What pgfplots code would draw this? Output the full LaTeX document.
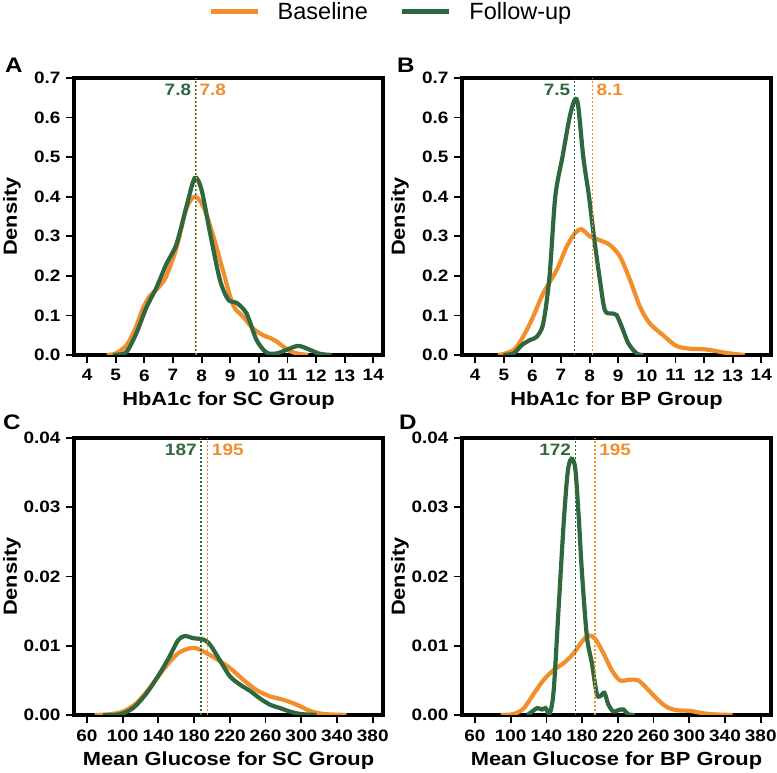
\documentclass[border=0pt]{standalone}
\usepackage{fontspec}
\setmainfont{Liberation Sans}[FakeStretch=1.15]
\newfontfamily\legendfont{Liberation Sans}
\usepackage{pgfplots}
\pgfplotsset{compat=1.18}
\definecolor{cOr}{RGB}{242,142,43}
\definecolor{cGr}{RGB}{47,104,62}
\tikzset{mlab/.style={font=\bfseries\fontsize{16.5bp}{17bp}\selectfont, inner sep=0pt}}
\pgfplotsset{
 dens/.style={
  scale only axis, width=309bp, height=277bp,
  axis line style={line width=3.5bp, black},
  tick align=outside, major tick length=8bp,
  tick style={black, line width=1.8bp},
  xtick pos=left, ytick pos=left,
  ticklabel style={font=\bfseries\fontsize{16.5bp}{17bp}\selectfont},
  xticklabel style={yshift=-3bp},
  yticklabel style={xshift=-2bp},
  /pgf/number format/assume math mode=true,
  label style={font=\bfseries\fontsize{19bp}{20bp}\selectfont},
  xlabel style={at={(rel axis cs:0.5,0)}, anchor=north, yshift=-37bp, inner sep=0pt},
  ylabel style={at={(rel axis cs:0,0.5)}, anchor=north, yshift=71bp, inner sep=0pt},
  ylabel=Density,
  scaled y ticks=false,
  ymin=0,
 },
 hba/.style={dens, xmin=3.54, xmax=14.34, xtick={4,5,...,14}, ymax=0.7, ytick={0,0.1,...,0.7},
  yticklabel style={/pgf/number format/.cd, fixed, fixed zerofill, precision=1}},
 glu/.style={dens, xmin=45.5, xmax=391.5, xtick={60,100,...,380}, ymax=0.04, ytick={0,0.01,...,0.04},
  yticklabel style={/pgf/number format/.cd, fixed, fixed zerofill, precision=2}},
 orc/.style={cOr, line width=4.2bp, smooth, tension=0.5, no markers},
 grc/.style={cGr, line width=4.2bp, smooth, tension=0.5, no markers},
 orm/.style={cOr, line width=1.4bp, dash pattern=on 2bp off 2bp, forget plot},
 grm/.style={cGr, line width=1.4bp, dash pattern=on 2bp off 2bp, forget plot},
}
\begin{document}
\begin{tikzpicture}
\path[use as bounding box] (0bp,0bp) rectangle (777bp,773bp);
% Panel A
\begin{axis}[hba, at={(74bp,418bp)}, anchor=south west, xlabel={HbA1c for SC Group},
  legend style={at={(rel axis cs:1.025,1.24)}, anchor=center, draw=none, fill=none,
   legend columns=2, font=\legendfont\fontsize{23.5bp}{25bp}\selectfont,
   /tikz/every even column/.append style={column sep=30bp}},
  legend image code/.code={\draw[#1,line width=5bp] (0bp,0bp) -- (47bp,0bp); \path (63bp,0bp);}]
\addplot[orc] coordinates {(4.68,0)(5.0,0.004)(5.38,0.025)(5.7,0.07)(5.96,0.12)(6.2,0.15)(6.42,0.165)(6.6,0.18)(6.77,0.2)(7.12,0.27)(7.47,0.37)(7.76,0.40)(8.06,0.375)(8.41,0.30)(8.76,0.21)(9.1,0.126)(9.45,0.097)(9.8,0.067)(10.15,0.05)(10.4,0.043)(10.62,0.034)(11.08,0.01)(11.4,0.003)(11.73,0)};
\addlegendentry{Baseline}
\addplot[grc] coordinates {(4.91,0)(5.1,0.001)(5.38,0.008)(5.72,0.055)(6.07,0.12)(6.42,0.17)(6.77,0.23)(7.12,0.28)(7.47,0.375)(7.76,0.447)(8.0,0.417)(8.29,0.31)(8.64,0.19)(8.93,0.14)(9.22,0.132)(9.57,0.105)(9.92,0.038)(10.27,0.006)(10.62,0.004)(10.97,0.013)(11.38,0.023)(11.79,0.013)(12.13,0.003)(12.54,0)};
\addlegendentry{Follow-up}
\addplot[orm] coordinates {(7.82,0)(7.82,0.7)};
\addplot[grm] coordinates {(7.78,0)(7.78,0.7)};
\node[mlab, anchor=base east, text=cGr, xshift=-4bp] at (axis cs:7.78,0.657) {7.8};
\node[mlab, anchor=base west, text=cOr, xshift=3bp] at (axis cs:7.82,0.657) {7.8};
\end{axis}
% Panel B
\begin{axis}[hba, at={(462bp,418bp)}, anchor=south west, xlabel={HbA1c for BP Group}]
\addplot[orc] coordinates {(4.81,0)(5.1,0.005)(5.45,0.02)(5.92,0.08)(6.38,0.156)(6.85,0.215)(7.2,0.274)(7.49,0.308)(7.72,0.318)(8.01,0.30)(8.36,0.29)(8.71,0.278)(9.06,0.249)(9.41,0.19)(9.76,0.122)(10.1,0.08)(10.57,0.05)(11.03,0.023)(11.5,0.016)(12.08,0.014)(12.55,0.008)(13.0,0.003)(13.42,0)};
\addplot[grc] coordinates {(4.99,0)(5.34,0.004)(5.63,0.025)(5.92,0.038)(6.15,0.046)(6.38,0.08)(6.6,0.2)(6.8,0.4)(7.05,0.5)(7.3,0.6)(7.48,0.645)(7.6,0.63)(7.78,0.5)(7.98,0.4)(8.15,0.3)(8.34,0.2)(8.53,0.114)(8.77,0.105)(8.94,0.101)(9.12,0.072)(9.35,0.03)(9.64,0.004)(9.87,0)};
\addplot[orm] coordinates {(8.1,0)(8.1,0.7)};
\addplot[grm] coordinates {(7.47,0)(7.47,0.7)};
\node[mlab, anchor=base east, text=cGr, xshift=-4bp] at (axis cs:7.47,0.657) {7.5};
\node[mlab, anchor=base west, text=cOr, xshift=4bp] at (axis cs:8.1,0.657) {8.1};
\end{axis}
% Panel C
\begin{axis}[glu, at={(74bp,58bp)}, anchor=south west, xlabel={Mean Glucose for SC Group}]
\addplot[orc] coordinates {(68.6,0)(85.4,0.0001)(100.4,0.0005)(115.3,0.0017)(130.3,0.0039)(145.2,0.0065)(160.2,0.0087)(171.4,0.0095)(180.7,0.0097)(190.1,0.0092)(205,0.0081)(220,0.0068)(234.9,0.0051)(249.9,0.0036)(264.9,0.0027)(279.8,0.0022)(294.8,0.0015)(309.7,0.0006)(324.7,0.00015)(350.8,0)};
\addplot[grc] coordinates {(77.9,0)(96.6,0.0001)(111.6,0.001)(126.5,0.0031)(141.5,0.006)(152.7,0.0085)(162.1,0.0108)(169.5,0.0114)(178.9,0.0111)(190.1,0.0109)(197.6,0.0102)(208.8,0.0079)(220,0.0056)(231.2,0.0044)(242.4,0.0035)(253.6,0.0024)(264.9,0.0015)(276.1,0.001)(287.3,0.0005)(298.5,0.00015)(317.2,0)};
\addplot[orm] coordinates {(195.3,0)(195.3,0.04)};
\addplot[grm] coordinates {(187.5,0)(187.5,0.04)};
\node[mlab, anchor=base east, text=cGr, xshift=-4bp] at (axis cs:187.5,0.0375) {187};
\node[mlab, anchor=base west, text=cOr, xshift=4bp] at (axis cs:195.3,0.0375) {195};
\end{axis}
% Panel D
\begin{axis}[glu, at={(462bp,58bp)}, anchor=south west, xlabel={Mean Glucose for BP Group}]
\addplot[orc] coordinates {(88.9,0)(103.8,0.00015)(114.9,0.001)(126,0.0031)(137.1,0.0051)(148.2,0.0065)(159.4,0.0075)(170.5,0.0089)(179.8,0.0106)(187.2,0.0115)(194.6,0.011)(203.9,0.0089)(213.1,0.0065)(222.4,0.005)(233.5,0.0051)(242.8,0.005)(252.1,0.0039)(263.2,0.0024)(274.3,0.0012)(285.4,0.0007)(300.3,0.0006)(313.2,0.0003)(326.2,0.0001)(348.5,0)};
\addplot[grc] coordinates {(118.6,0)(124.1,0.0005)(129.7,0.001)(135.3,0.0008)(139,0.001)(143.8,0.0003)(148.2,0.0036)(153.8,0.0157)(159.4,0.0278)(163.8,0.035)(167.9,0.037)(172.3,0.0356)(176.1,0.0288)(179.8,0.0206)(185.3,0.0114)(190.9,0.0075)(196.4,0.0031)(200.2,0.0027)(205,0.0032)(209.4,0.0015)(215,0.0005)(220.6,0.0007)(226.1,0.0008)(231.7,0.0001)(239.1,0)};
\addplot[orm] coordinates {(194.6,0)(194.6,0.04)};
\addplot[grm] coordinates {(172.3,0)(172.3,0.04)};
\node[mlab, anchor=base east, text=cGr, xshift=-4bp] at (axis cs:172.3,0.0375) {172};
\node[mlab, anchor=base west, text=cOr, xshift=4bp] at (axis cs:194.6,0.0375) {195};
\end{axis}
% panel letters
\node[anchor=base west, inner sep=0pt, font=\bfseries\fontsize{21bp}{22bp}\selectfont] at (5bp,700bp) {A};
\node[anchor=base west, inner sep=0pt, font=\bfseries\fontsize{21bp}{22bp}\selectfont] at (397bp,700bp) {B};
\node[anchor=base west, inner sep=0pt, font=\bfseries\fontsize{21bp}{22bp}\selectfont] at (3bp,343bp) {C};
\node[anchor=base west, inner sep=0pt, font=\bfseries\fontsize{21bp}{22bp}\selectfont] at (399bp,343bp) {D};
\end{tikzpicture}
\end{document}
